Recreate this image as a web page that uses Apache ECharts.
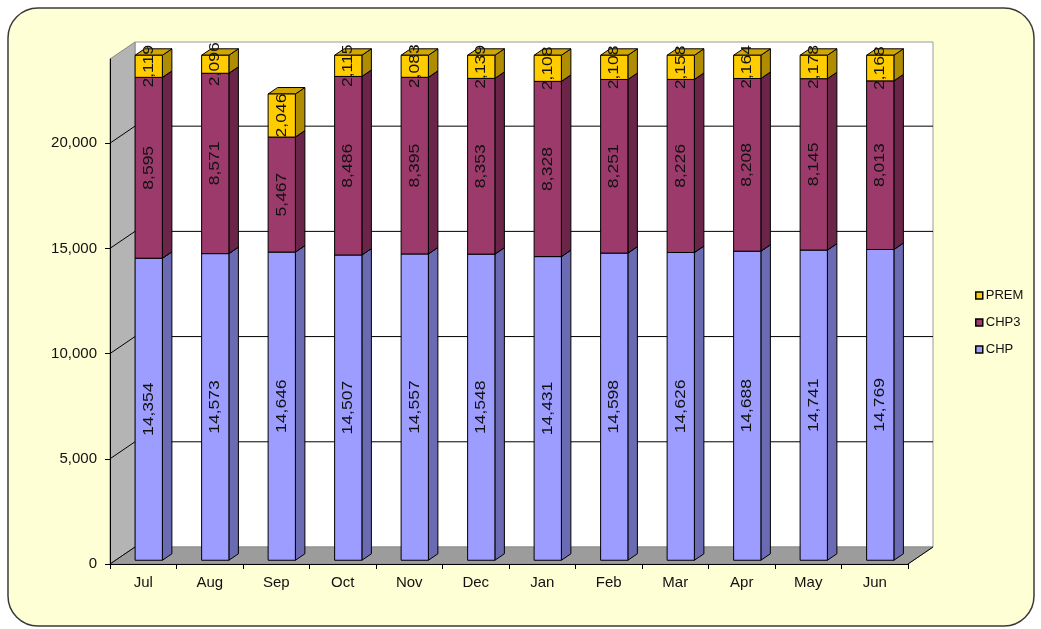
<!DOCTYPE html>
<html>
<head>
<meta charset="utf-8">
<script src="https://cdn.jsdelivr.net/npm/echarts@6/dist/echarts.min.js"></script>
<style>
  html, body { margin: 0; padding: 0; background: #ffffff; }
  #chart { width: 1041px; height: 629px; }
</style>
</head>
<body>
<div id="chart"></div>
<script>
// Monthly membership by plan, stacked
const months = ['Jul', 'Aug', 'Sep', 'Oct', 'Nov', 'Dec', 'Jan', 'Feb', 'Mar', 'Apr', 'May', 'Jun'];
const chp  = [14354, 14573, 14646, 14507, 14557, 14548, 14431, 14598, 14626, 14688, 14741, 14769];
const chp3 = [8595, 8571, 5467, 8486, 8395, 8353, 8328, 8251, 8226, 8208, 8145, 8013];
const prem = [2119, 2096, 2046, 2115, 2083, 2139, 2108, 2108, 2158, 2164, 2178, 2168];
const yTicks = [0, 5000, 10000, 15000, 20000];
const yMax = 24000;

// pseudo-3D geometry (pixels): depth of the floor / walls
const DX = 25, DY = 17;
const F0 = 0.22, F1 = 0.60;      // bar front / back as a fraction of depth
const BAR_RATIO = 0.41;          // bar width relative to category band
const FONT = '"Liberation Sans", Arial, sans-serif';

const fmt = v => Math.round(v).toLocaleString('en-US');

// running bases for the stack
const baseChp = months.map(() => 0);
const baseChp3 = chp.slice();
const basePrem = chp.map((v, i) => v + chp3[i]);

function barSeries(name, values, bases, colors) {
  return {
    type: 'custom',
    name: name,
    z: 3,
    itemStyle: { color: colors.front },
    data: values.map((v, i) => [i, v, bases[i]]),
    encode: { x: 0, y: 1 },
    renderItem: function (params, api) {
      const i = api.value(0), v = api.value(1), base = api.value(2);
      const lo = base, hi = Math.min(base + v, yMax);
      if (hi <= lo) return;
      const pB = api.coord([i, lo]);
      const pT = api.coord([i, hi]);
      const band = api.size([1, 0])[0];
      const w = band * BAR_RATIO;
      const fx = DX * F0, fy = DY * F0;
      const bx = DX * (F1 - F0), by = DY * (F1 - F0);
      const x0 = pB[0] - w / 2 + fx, x1 = x0 + w;
      const yb = pB[1] - fy, yt = pT[1] - fy;
      const stroke = { stroke: '#000', lineWidth: 1, lineJoin: 'round' };
      const cs = params.coordSys;
      return {
        type: 'group',
        children: [
          { type: 'polygon', shape: { points: [[x1, yb], [x1 + bx, yb - by], [x1 + bx, yt - by], [x1, yt]] },
            style: Object.assign({ fill: colors.side }, stroke) },
          { type: 'polygon', shape: { points: [[x0, yt], [x1, yt], [x1 + bx, yt - by], [x0 + bx, yt - by]] },
            style: Object.assign({ fill: colors.top }, stroke) },
          { type: 'rect', shape: { x: x0, y: yt, width: w, height: yb - yt },
            style: Object.assign({ fill: colors.front }, stroke) },
          {
            type: 'group',
            clipPath: { type: 'rect', shape: { x: 0, y: cs.y - DY + 1, width: 1041, height: 629 } },
            children: [{
              type: 'text',
              x: (x0 + x1) / 2,
              y: (yt + yb) / 2,
              rotation: Math.PI / 2,
              scaleX: 1.25,
              style: {
                text: fmt(v),
                align: 'center',
                verticalAlign: 'middle',
                fill: '#111',
                font: '14px ' + FONT
              }
            }]
          }
        ]
      };
    }
  };
}

// walls, floor and gridlines of the 3D frame
const frameSeries = {
  type: 'custom',
  name: 'frame',
  z: 1,
  silent: true,
  data: [[0, 0]],
  encode: { x: 0, y: 1 },
  renderItem: function (params, api) {
    const cs = params.coordSys;
    const x0 = cs.x, x1 = cs.x + cs.width, yT = cs.y, yB = cs.y + cs.height;
    const kids = [];
    // back wall
    kids.push({ type: 'rect', shape: { x: x0 + DX, y: yT - DY, width: cs.width, height: cs.height },
      style: { fill: '#ffffff', stroke: '#9a9a9a', lineWidth: 1 } });
    // left wall
    kids.push({ type: 'polygon', shape: { points: [[x0, yB], [x0, yT], [x0 + DX, yT - DY], [x0 + DX, yB - DY]] },
      style: { fill: '#b4b4b4', stroke: '#8a8a8a', lineWidth: 1 } });
    // floor
    kids.push({ type: 'polygon', shape: { points: [[x0, yB], [x1, yB], [x1 + DX, yB - DY], [x0 + DX, yB - DY]] },
      style: { fill: '#9c9c9c', stroke: '#8a8a8a', lineWidth: 1 } });
    // gridlines on the back wall and connectors across the left wall
    yTicks.forEach(function (v) {
      const y = api.coord([0, v])[1];
      if (v > 0) {
        kids.push({ type: 'line', shape: { x1: x0 + DX, y1: y - DY, x2: x1 + DX, y2: y - DY },
          style: { stroke: '#000', lineWidth: 1 } });
      }
      kids.push({ type: 'line', shape: { x1: x0, y1: y, x2: x0 + DX, y2: y - DY },
        style: { stroke: '#000', lineWidth: 1 } });
    });
    // right edge of the floor
    kids.push({ type: 'line', shape: { x1: x1, y1: yB, x2: x1 + DX, y2: yB - DY },
      style: { stroke: '#000', lineWidth: 1 } });
    return { type: 'group', children: kids };
  }
};

const chart = echarts.init(document.getElementById('chart'), null, { renderer: 'canvas' });

chart.setOption({
  backgroundColor: '#ffffff',
  animation: false,
  textStyle: { fontFamily: FONT },
  graphic: [{
    type: 'rect',
    z: -10,
    shape: { x: 8, y: 8, width: 1026, height: 618, r: 30 },
    style: { fill: '#ffffd6', stroke: '#3a3a3a', lineWidth: 1.5 }
  }],
  grid: {
    left: 110, right: 133, top: 59, bottom: 65,
    containLabel: false,
    outerBoundsMode: 'none'
  },
  legend: {
    orient: 'vertical',
    left: 975,
    top: 289,
    itemWidth: 7,
    itemHeight: 7,
    itemGap: 14,
    padding: 0,
    icon: 'rect',
    data: ['PREM', 'CHP3', 'CHP'],
    itemStyle: { borderColor: '#000', borderWidth: 1.5 },
    textStyle: { fontSize: 13, color: '#111', fontFamily: FONT, padding: [0, 0, 0, -2] }
  },
  xAxis: {
    type: 'category',
    data: months,
    z: 5,
    axisLine: { show: true, lineStyle: { color: '#000', width: 1 } },
    axisTick: { show: true, length: 5, lineStyle: { color: '#000' } },
    axisLabel: { color: '#111', fontSize: 15, margin: 11, fontFamily: FONT },
    splitLine: { show: false }
  },
  yAxis: {
    type: 'value',
    min: 0,
    max: yMax,
    z: 5,
    axisLine: { show: true, lineStyle: { color: '#000', width: 1 } },
    axisTick: { show: true, length: 5, customValues: yTicks, lineStyle: { color: '#000' } },
    axisLabel: { color: '#111', fontSize: 15, margin: 13, customValues: yTicks, formatter: v => fmt(v), fontFamily: FONT },
    splitLine: { show: false }
  },
  series: [
    frameSeries,
    barSeries('CHP', chp, baseChp, { front: '#9d9dff', side: '#6b6bb3', top: '#8585e0' }),
    barSeries('CHP3', chp3, baseChp3, { front: '#9c3a6c', side: '#6b2549', top: '#7f2d57' }),
    barSeries('PREM', prem, basePrem, { front: '#ffcc00', side: '#b08c00', top: '#d1a600' })
  ]
});
</script>
</body>
</html>
